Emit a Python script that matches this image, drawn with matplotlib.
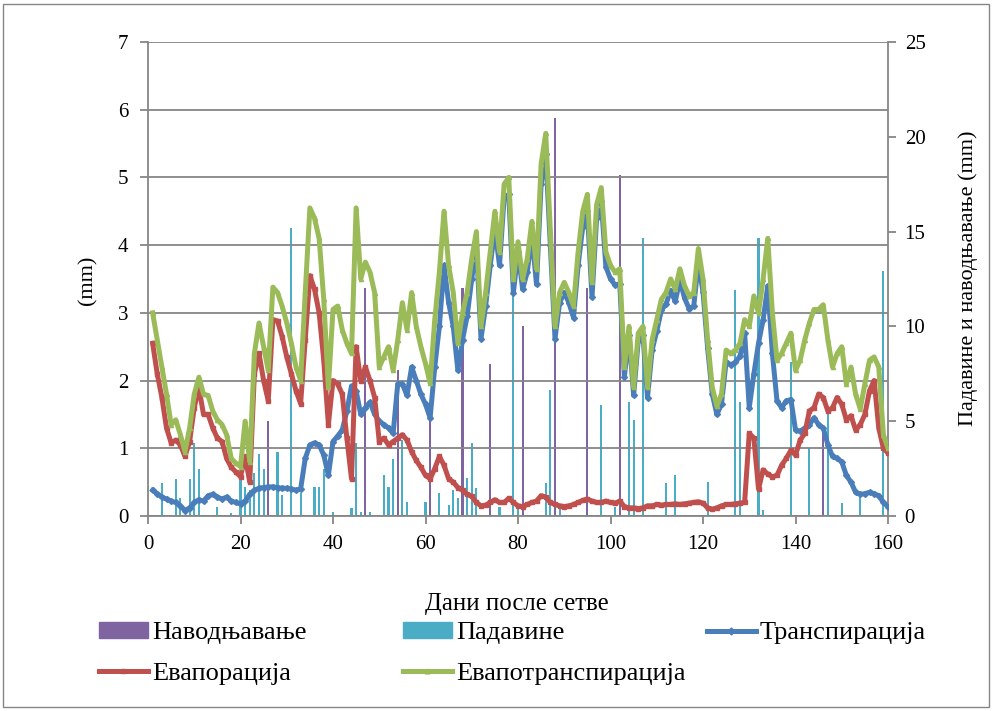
import matplotlib
matplotlib.use("Agg")
import matplotlib.pyplot as plt
import numpy as np
from matplotlib.lines import Line2D
from matplotlib.patches import Patch, Rectangle

plt.rcParams['font.family'] = ['Liberation Serif', 'DejaVu Serif']

# --- data (mm per day) ---
days = np.arange(1, 161)

evapotransp = [3.0, 2.6, 2.2, 1.8, 1.35, 1.42, 1.2, 0.95, 1.3, 1.8,
               2.05, 1.8, 1.78, 1.55, 1.42, 1.35, 1.2, 0.85, 0.78, 0.73,
               1.4, 0.8, 2.4, 2.85, 2.5, 2.15, 3.38, 3.3, 3.1, 2.85,
               2.55, 2.2, 2.0, 3.3, 4.55, 4.4, 4.1, 3.2, 1.9, 3.05,
               3.1, 2.75, 2.55, 2.4, 4.55, 3.5, 3.75, 3.6, 3.3, 2.2,
               2.35, 2.5, 2.15, 2.6, 3.15, 2.75, 3.3, 2.8, 2.5, 2.25,
               1.96, 2.9, 3.6, 4.5, 3.7, 3.3, 2.55, 3.0, 3.3, 3.8,
               4.2, 2.8, 3.3, 3.9, 4.5, 3.9, 4.9, 5.0, 3.5, 4.05,
               3.5, 3.8, 4.35, 3.65, 5.2, 5.65, 4.2, 2.8, 3.3, 3.45,
               3.3, 3.1, 3.9, 4.5, 4.75, 3.45, 4.6, 4.85, 3.9, 3.7,
               3.6, 3.65, 2.2, 2.8, 1.9, 2.7, 2.8, 1.9, 2.6, 2.9,
               3.2, 3.3, 3.5, 3.35, 3.65, 3.4, 3.25, 3.3, 3.95, 3.5,
               2.6, 1.9, 1.62, 1.8, 2.45, 2.4, 2.45, 2.55, 2.9, 2.8,
               3.25, 3.0, 3.5, 4.1, 3.0, 2.3, 2.4, 2.55, 2.7, 2.15,
               2.3, 2.6, 2.85, 3.05, 3.05, 3.12, 2.6, 2.2, 2.4, 2.5,
               1.95, 2.2, 1.8, 1.58, 1.95, 2.3, 2.35, 2.2, 1.2, 1.0]

evap = [2.55, 2.1, 1.75, 1.3, 1.08, 1.12, 1.05, 0.88, 1.1, 1.6,
        1.9, 1.5, 1.5, 1.3, 1.15, 1.1, 0.85, 0.72, 0.65, 0.58,
        0.88, 0.5, 2.1, 2.4, 2.0, 1.7, 2.9, 2.88, 2.65, 2.35,
        2.1, 1.85, 1.66, 2.6, 3.55, 3.35, 3.0, 2.3, 1.35, 2.0,
        1.95, 1.8, 1.15, 0.55, 2.5, 2.0, 2.2, 2.0, 1.75, 1.1,
        1.15, 1.05, 1.1, 1.15, 1.2, 1.12, 0.95, 0.82, 0.72, 0.6,
        0.55, 0.7, 0.88, 0.75, 0.55, 0.5, 0.42, 0.38, 0.32, 0.29,
        0.2, 0.15, 0.16, 0.2, 0.24, 0.2, 0.2, 0.26, 0.2, 0.15,
        0.14, 0.17, 0.2, 0.22, 0.3, 0.28, 0.2, 0.17, 0.15, 0.14,
        0.15, 0.17, 0.2, 0.23, 0.25, 0.22, 0.2, 0.2, 0.22, 0.2,
        0.19, 0.22, 0.14, 0.12, 0.12, 0.11, 0.12, 0.15, 0.15, 0.17,
        0.16, 0.17, 0.17, 0.18, 0.17, 0.18, 0.19, 0.2, 0.21, 0.19,
        0.12, 0.1, 0.12, 0.15, 0.17, 0.17, 0.18, 0.19, 0.2, 1.22,
        1.15, 0.4, 0.68, 0.62, 0.58, 0.6, 0.75, 0.85, 0.97, 0.9,
        1.12, 1.22, 1.55, 1.6, 1.8, 1.75, 1.55, 1.6, 1.75, 1.65,
        1.42, 1.48, 1.27, 1.35, 1.5, 1.85, 2.0, 1.3, 1.0, 0.93]

transp = [0.38, 0.33, 0.28, 0.25, 0.22, 0.2, 0.15, 0.08, 0.12, 0.2,
          0.24, 0.22, 0.3, 0.32, 0.28, 0.25, 0.28, 0.22, 0.2, 0.18,
          0.22, 0.32, 0.38, 0.41, 0.42, 0.43, 0.43, 0.42, 0.41, 0.41,
          0.4, 0.38, 0.4, 0.85, 1.05, 1.08, 1.05, 0.9, 0.6, 1.1,
          1.18, 1.27, 1.55, 1.92, 1.85, 1.5, 1.6, 1.68, 1.5, 1.4,
          1.35, 1.3, 1.22, 1.95, 1.95, 1.78, 2.2, 2.0, 1.8, 1.65,
          1.45, 2.2, 2.8, 3.7, 3.15, 2.8, 2.15, 2.6, 2.95, 3.5,
          4.0, 2.62, 3.1, 3.7, 4.25, 3.7, 4.7, 4.75, 3.3, 3.9,
          3.35, 3.6, 4.15, 3.42, 4.9, 5.35, 4.0, 2.62, 3.15, 3.3,
          3.15, 2.93, 3.7, 4.27, 4.5, 3.23, 4.4, 4.65, 3.68, 3.5,
          3.41, 3.43, 2.06, 2.68, 1.78, 2.59, 2.68, 1.75, 2.45, 2.73,
          3.04, 3.13, 3.33, 3.17, 3.48, 3.22, 3.06, 3.1, 3.74, 3.31,
          2.48, 1.8, 1.5, 1.65, 2.28, 2.23, 2.27, 2.36, 2.7, 1.6,
          2.1, 2.55, 2.9, 3.4, 2.4, 1.7, 1.6, 1.7, 1.72, 1.27,
          1.25, 1.3, 1.35, 1.45, 1.35, 1.3, 1.05, 0.88, 0.85, 0.8,
          0.6, 0.5, 0.35, 0.32, 0.33, 0.35, 0.33, 0.3, 0.2, 0.14]

rain_days = [3, 6, 7, 9, 10, 11, 15, 18, 20, 21, 22, 23, 24, 25, 28, 29, 31, 33,
             36, 37, 38, 40, 44, 45, 46, 48, 51, 52, 53, 55, 56, 60, 63, 65, 66,
             67, 69, 70, 71, 76, 79, 80, 86, 87, 89, 98, 101, 104, 105, 107, 112,
             114, 121, 127, 128, 132, 133, 139, 143, 147, 150, 154, 159]
rain_mm = [1.75, 1.95, 0.95, 1.95, 3.83, 2.5, 0.5, 0.15, 1.93, 1.55, 1.37, 2.25,
           3.25, 2.5, 3.4, 1.1, 15.2, 1.2, 1.55, 1.55, 2.5, 0.2, 0.4, 3.83, 0.2,
           0.2, 2.16, 1.55, 3.0, 4.0, 0.76, 0.76, 1.2, 0.6, 1.37, 0.93, 2.0, 3.83,
           1.5, 0.5, 12.0, 0.4, 1.74, 6.65, 0.6, 5.85, 0.5, 6.0, 5.06, 14.65,
           1.74, 2.16, 1.8, 11.9, 6.03, 14.65, 0.3, 8.1, 3.57, 5.77, 0.67, 1.02,
           12.9]

irr_days = [26, 47, 54, 61, 68, 74, 81, 88, 95, 102, 146]
irr_mm = [5.0, 12.0, 7.7, 5.06, 12.0, 8.0, 10.0, 21.0, 12.0, 18.0, 4.7]

labels = ['Наводњавање', 'Падавине', 'Транспирација', 'Евапорација',
          'Евапотранспирација']

# --- colours ---
c_irr = '#8064A2'
c_rain = '#4BACC6'
c_tr = '#4A7EBB'
c_ev = '#C0504D'
c_et = '#9BBB59'
c_grid = '#868686'
LW = 3.6

W, H = 998, 711
fig = plt.figure(figsize=(W / 100, H / 100), dpi=100)
ax = fig.add_axes([148 / W, 1 - 516 / H, 740 / W, 474 / H])
ax2 = ax.twinx()

ax2.bar(irr_days, irr_mm, width=0.45, color=c_irr, zorder=2)
ax2.bar(rain_days, rain_mm, width=0.45, color=c_rain, zorder=2)

ax.set_zorder(ax2.get_zorder() + 1)
ax.patch.set_visible(False)

ax.plot(days, transp, color=c_tr, lw=LW, marker='D', ms=3, zorder=3,
        solid_joinstyle='round')
ax.plot(days, evap, color=c_ev, lw=LW, marker='s', ms=3, zorder=3,
        solid_joinstyle='round')
ax.plot(days, evapotransp, color=c_et, lw=LW, marker='^', ms=3, zorder=4,
        solid_joinstyle='round')

ax.set_xlim(0, 160)
ax.set_ylim(0, 7)
ax2.set_ylim(0, 25)
ax.set_xticks(range(0, 161, 20))
ax.set_yticks(range(0, 8))
ax2.set_yticks(range(0, 26, 5))

ax.yaxis.grid(True, color=c_grid, lw=1.3)
for s in ['top', 'right']:
    ax.spines[s].set_visible(False)
for s in ['top', 'left', 'bottom']:
    ax2.spines[s].set_visible(False)
for s in ['left', 'bottom']:
    ax.spines[s].set_color(c_grid)
    ax.spines[s].set_linewidth(1.3)
ax2.spines['right'].set_color(c_grid)
ax2.spines['right'].set_linewidth(1.3)

ax.tick_params(direction='out', length=6, width=1.3, color=c_grid,
               labelsize=15, pad=8)
ax2.tick_params(direction='out', length=6, width=1.3, color=c_grid,
                labelsize=15, pad=6)

fig.text(88 / W, 1 - 280 / H, '(mm)', rotation=90, ha='center', va='center',
         fontsize=16)
fig.text(968 / W, 1 - 278 / H, 'Падавине и наводњавање (mm)', rotation=90,
         ha='center', va='center', fontsize=16)
fig.text(517 / W, 1 - 604 / H, 'Дани после сетве', ha='center', va='center',
         fontsize=17.8)

h_irr = Patch(color=c_irr)
h_rain = Patch(color=c_rain)
h_tr = Line2D([], [], color=c_tr, lw=LW, marker='D', ms=3.5, markevery=[1])
h_ev = Line2D([], [], color=c_ev, lw=LW, marker='s', ms=3.5, markevery=[1])
h_et = Line2D([], [], color=c_et, lw=LW, marker='^', ms=3.5, markevery=[1])

cols = [([h_irr, h_ev], [labels[0], labels[3]], 99),
        ([h_rain, h_et], [labels[1], labels[4]], 403),
        ([h_tr], [labels[2]], 707)]
for hs, ls, x in cols:
    fig.legend(hs, ls, loc='upper left', bbox_to_anchor=(x / W, 1 - 622 / H),
               frameon=False, fontsize=19, borderpad=0, borderaxespad=0,
               handlelength=1.85, handleheight=0.55, handletextpad=0.15,
               labelspacing=0.7)

fig.patches.append(Rectangle((3 / W, 4 / H), 986 / W, 703 / H,
                             transform=fig.transFigure, fill=False,
                             edgecolor=c_grid, lw=1.0))

fig.savefig('out.png', dpi=100)
